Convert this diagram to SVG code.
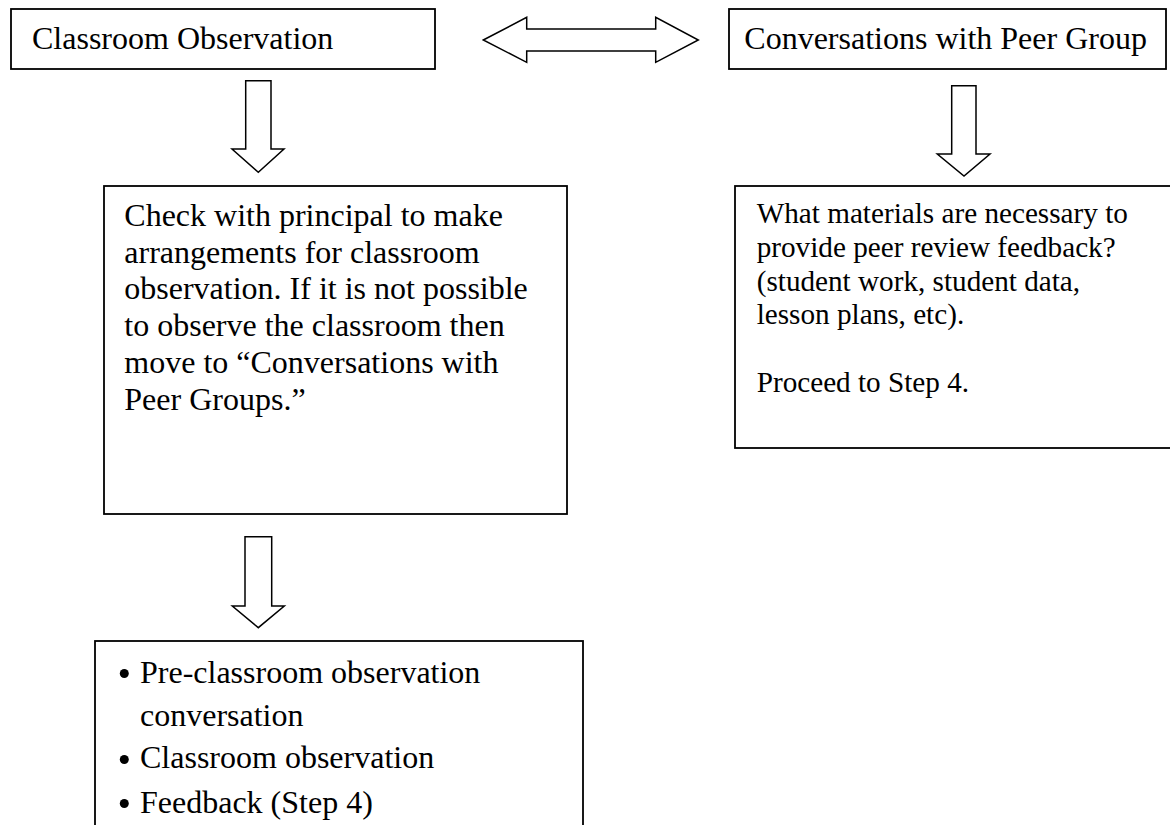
<svg xmlns="http://www.w3.org/2000/svg" width="1170" height="825" viewBox="0 0 1170 825">
<style>
.box{fill:#fff;stroke:#000;stroke-width:1.8}
.arr{fill:#fff;stroke:#000;stroke-width:1.5;stroke-linejoin:miter}
.t{font-family:"Liberation Serif","Times New Roman",serif;font-size:32px;fill:#000}
.t2{font-family:"Liberation Serif","Times New Roman",serif;font-size:29.2px;fill:#000}
</style>
<rect width="1170" height="825" fill="#fff"/>
<g id="connectors">
<path class="arr" d="M245.7,80.7 H271 V149 H284 L258.3,172.3 L232,149 H245.7 Z"/>
<path class="arr" d="M483.3,40 L526.7,17.3 V29 H655.7 V17.3 L698.3,40 L655.7,62.3 V51 H526.7 V62.3 Z"/>
<path class="arr" d="M951.7,85.7 H976 V154 H990 L964,176 L937.3,154 H951.7 Z"/>
<path class="arr" d="M245,536.7 H271.7 V606 H284.3 L258.3,627.7 L232.3,606 H245 Z"/>
</g>
<g id="node-classroom-observation">
<rect class="box" x="11" y="9" width="424" height="60"/>
<text class="t" x="32" y="49">Classroom Observation</text>
</g>
<g id="node-conversations">
<rect class="box" x="729" y="9" width="437" height="60"/>
<text class="t" x="744.3" y="49.3">Conversations with Peer Group</text>
</g>
<g id="node-check-principal">
<rect class="box" x="104" y="186" width="463" height="328"/>
<text class="t" x="124.3">
<tspan x="124.3" y="225.7">Check with principal to make</tspan>
<tspan x="124.3" y="262.5">arrangements for classroom</tspan>
<tspan x="124.3" y="299.3">observation. If it is not possible</tspan>
<tspan x="124.3" y="336.1">to observe the classroom then</tspan>
<tspan x="124.3" y="372.9">move to “Conversations with</tspan>
<tspan x="124.3" y="409.7">Peer Groups.”</tspan>
</text>
</g>
<g id="node-materials">
<rect class="box" x="735" y="186" width="445" height="262"/>
<text class="t2">
<tspan x="756.7" y="223.3">What materials are necessary to</tspan>
<tspan x="756.7" y="257">provide peer review feedback?</tspan>
<tspan x="756.7" y="290.7">(student work, student data,</tspan>
<tspan x="756.7" y="324.4">lesson plans, etc).</tspan>
<tspan x="756.7" y="392">Proceed to Step 4.</tspan>
</text>
</g>
<g id="node-steps">
<rect class="box" x="95" y="641" width="488" height="200"/>
<circle cx="124.3" cy="673.5" r="4.5" fill="#000"/>
<circle cx="124.3" cy="759.5" r="4.5" fill="#000"/>
<circle cx="124.3" cy="803.5" r="4.5" fill="#000"/>
<text class="t">
<tspan x="140" y="682.7">Pre-classroom observation</tspan>
<tspan x="140" y="725.5">conversation</tspan>
<tspan x="140" y="768.3">Classroom observation</tspan>
<tspan x="140" y="812.7">Feedback (Step 4)</tspan>
</text>
</g>
</svg>
